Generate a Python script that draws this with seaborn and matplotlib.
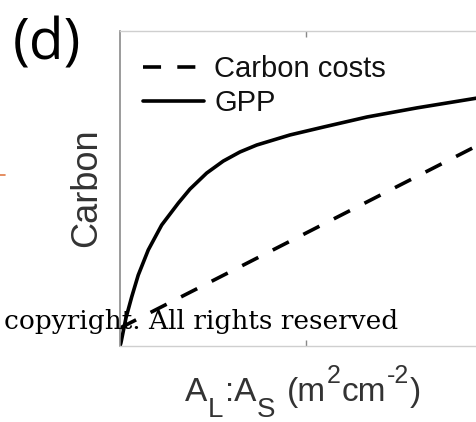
import matplotlib
matplotlib.use("Agg")
import matplotlib.pyplot as plt
import seaborn as sns
import pandas as pd
from matplotlib.lines import Line2D

# ---- data ----
gpp_x = [0.0, 0.005, 0.032, 0.063, 0.098, 0.152, 0.224, 0.314, 0.376, 0.466,
         0.555, 0.645, 0.735, 0.914, 1.093, 1.328, 1.597, 1.919, 2.0]
gpp_y = [0.0, 0.010, 0.089, 0.156, 0.225, 0.305, 0.384, 0.454, 0.498, 0.549,
         0.587, 0.616, 0.638, 0.670, 0.695, 0.727, 0.756, 0.787, 0.797]
cost_x = [0.0, 2.0]
cost_y = [0.057, 0.660]
series_labels = ["Carbon costs", "GPP"]
x_ticks = [1]
panel_label = "(d)"
y_label = "Carbon"
# x label pieces: (text, role) role: base / sub / sup / gap
x_label_pieces = [("A", "base"), ("L", "sub"), (":A", "base"), ("S", "sub"),
                  (" ", "gap"), ("(m", "base"), ("2", "sup"), ("cm", "base"),
                  ("-2", "sup"), (")", "base")]
watermark = "copyright. All rights reserved"

df_cost = pd.DataFrame({"x": cost_x, "y": cost_y})
df_gpp = pd.DataFrame({"x": gpp_x, "y": gpp_y})

sns.set_theme(style="white")
plt.rcParams["font.family"] = ["Liberation Sans", "DejaVu Sans"]

W, H = 477, 422
fig = plt.figure(figsize=(W / 100, H / 100), dpi=100)
ax = fig.add_axes([120 / W, (H - 346) / H, 372 / W, 315 / H])

sns.lineplot(data=df_cost, x="x", y="y", ax=ax, color="black", lw=2.6,
             linestyle=(0, (5.0, 4.5)), label=series_labels[0], sort=True)
sns.lineplot(data=df_gpp, x="x", y="y", ax=ax, color="black", lw=2.6,
             label=series_labels[1], sort=True)

ax.set_xlim(0, 2)
ax.set_ylim(0, 1)
ax.set_xticks(x_ticks)
ax.set_xticklabels([])
ax.set_yticks([])
ax.set_xlabel("")
ax.tick_params(axis="x", direction="in", length=4, width=1, color="#888888",
               top=True, bottom=True)
for s in ["top", "bottom", "right"]:
    ax.spines[s].set_color("#cfcfcf")
    ax.spines[s].set_linewidth(1)
ax.spines["left"].set_color("#8a8a8a")
ax.spines["left"].set_linewidth(1.2)

ax.set_ylabel(y_label, fontsize=26, color="#333333")
ax.yaxis.set_label_coords(-0.043, 0.502)

leg = ax.legend(loc="upper left", bbox_to_anchor=(143 / W, 1 - 55 / H),
                bbox_transform=fig.transFigure, frameon=False, fontsize=21,
                handlelength=2.1, handletextpad=0.35, borderpad=0,
                borderaxespad=0, labelspacing=0.2)
for t in leg.get_texts():
    t.set_color("#111111")

fig.text(13 / W, 1 - 60 / H, panel_label, fontsize=41, family=["Open Sans", "DejaVu Sans"],
         va="baseline", ha="left", color="black")
fig.text(4 / W, 1 - 329 / H, watermark, fontsize=19, family=["DejaVu Serif"],
         va="baseline", ha="left", color="black", zorder=10)
fig.add_artist(Line2D([0 / W, 5 / W], [1 - 175 / H, 1 - 175 / H],
                      color="#e07a45", lw=1.2, transform=fig.transFigure))

# x-axis label composed from pieces (large sub/superscripts as in the reference)
renderer = fig.canvas.get_renderer()
x_px = 185.0
base_px = 401.0
styles = {"base": (24, 0), "sub": (20, 16), "sup": (18, -18)}
for txt, role in x_label_pieces:
    if role == "gap":
        x_px += 10
        continue
    size, dy = styles[role]
    t = fig.text(x_px / W, 1 - (base_px + dy) / H, txt, fontsize=size,
                 va="baseline", ha="left", color="#333333")
    bb = t.get_window_extent(renderer)
    x_px += bb.width + 1

fig.savefig("out.png", dpi=100)
